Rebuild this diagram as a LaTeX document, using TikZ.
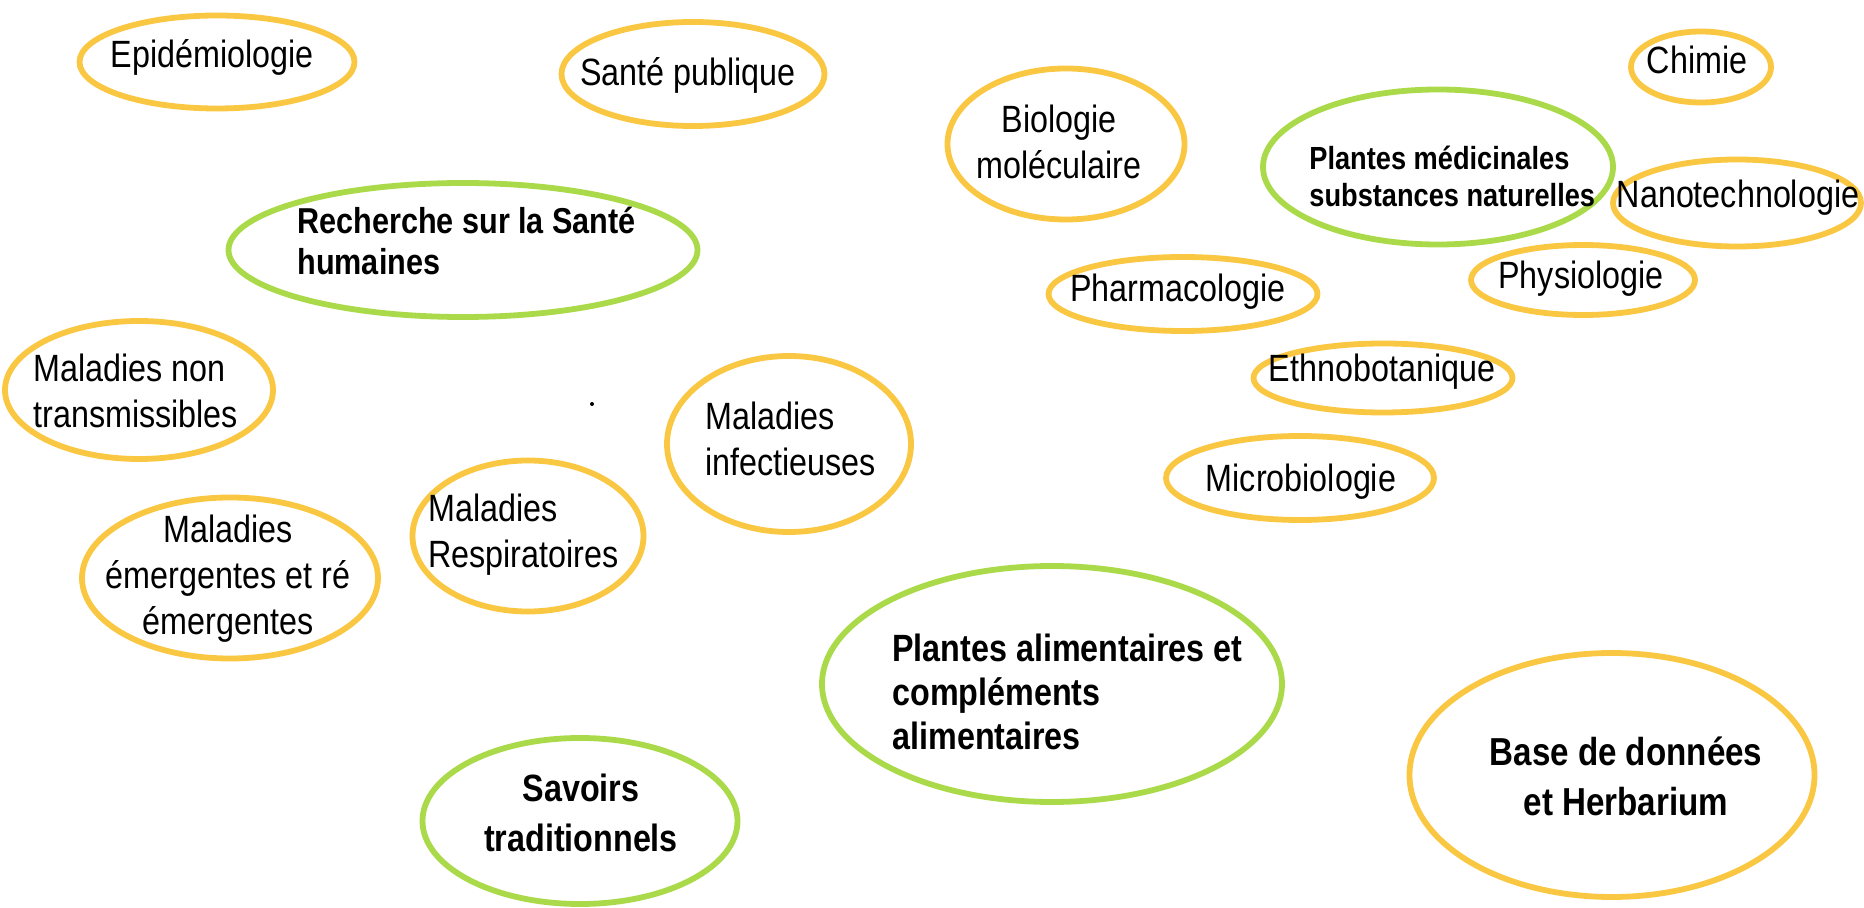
\documentclass[tikz,border=0pt]{standalone}
\usepackage{fontspec}
\setmainfont{Liberation Sans}[FakeStretch=0.85]
\usetikzlibrary{shapes.geometric}

\definecolor{gold}{RGB}{250,199,66}
\definecolor{leaf}{RGB}{170,218,74}

\newcommand{\txtreg}{\fontsize{19}{23}\selectfont}
\newcommand{\txtkey}{\fontsize{18}{20.5}\selectfont\bfseries}

\tikzset{
  ring/.style={ellipse, draw=gold, line width=2.9pt, inner sep=0pt},
  keyring/.style={ring, draw=leaf},
  lbl/.style={inner sep=0pt, font=\txtreg, align=center},
  keylbl/.style={lbl, font=\txtkey},
}

\begin{document}
\begin{tikzpicture}[x=0.5pt, y=-0.5pt]
    \useasboundingbox (0,0) rectangle (1864,908);

    % left group: health research
    \node[ring, minimum width=137.5pt, minimum height=46.5pt] (epi) at (217,62) {};
    \node[lbl] (epi-t) at (212,57) {Epidémiologie};
    \node[ring, minimum width=131.5pt, minimum height=52pt] (sante) at (693,74) {};
    \node[lbl] (sante-t) at (688,75) {Santé publique};
    \node[keyring, minimum width=234.5pt, minimum height=67pt] (rech) at (463,250) {};
    \node[keylbl, anchor=west, align=left] (rech-t) at (297,241) {Recherche sur la Santé\\humaines};
    \node[ring, minimum width=134pt, minimum height=69pt] (nontrans) at (139,390) {};
    \node[lbl, anchor=west, align=left] (nontrans-t) at (33,391) {Maladies non\\transmissibles};
    \node[ring, minimum width=122pt, minimum height=88pt] (infect) at (789,444) {};
    \node[lbl, anchor=west, align=left] (infect-t) at (705,439) {Maladies\\infectieuses};
    \node[ring, minimum width=148pt, minimum height=80.5pt] (emerg) at (230,578) {};
    \node[lbl] (emerg-t) at (228,579) {Maladies\\émergentes et ré\\émergentes};
    \node[ring, minimum width=115.5pt, minimum height=75.5pt] (respi) at (528,536) {};
    \node[lbl, anchor=west, align=left] (respi-t) at (428,535) {Maladies\\Respiratoires};
    \fill (592,404) circle (1pt);

    % bottom
    \node[keyring, minimum width=157.5pt, minimum height=83pt] (savoirs) at (580,821) {};
    \node[keylbl, font=\fontsize{19}{25}\selectfont\bfseries] (savoirs-t) at (581,813) {Savoirs\\traditionnels};
    \node[keyring, minimum width=230pt, minimum height=118pt] (alim) at (1052,684) {};
    \node[keylbl, anchor=west, align=left, font=\fontsize{19}{22}\selectfont\bfseries] (alim-t) at (892,692) {Plantes alimentaires et\\compléments\\alimentaires};
    \node[ring, minimum width=202.5pt, minimum height=122pt] (base) at (1612,775) {};
    \node[keylbl, font=\fontsize{19.5}{25}\selectfont\bfseries] (base-t) at (1626,776) {Base de données\\et Herbarium};

    % right group: medicinal plants
    \node[ring, minimum width=118.5pt, minimum height=75.5pt] (bio) at (1066,144) {};
    \node[lbl] (bio-t) at (1059,142) {Biologie\\moléculaire};
    \node[keyring, minimum width=175pt, minimum height=77.5pt] (medic) at (1438,167) {};
    \node[keylbl, anchor=west, align=left, font=\fontsize{16}{18.5}\selectfont\bfseries] (medic-t) at (1309,176) {Plantes médicinales\\substances naturelles};
    \node[ring, minimum width=70pt, minimum height=35.5pt] (chimie) at (1701,67) {};
    \node[lbl] (chimie-t) at (1697,60) {Chimie};
    \node[ring, minimum width=124pt, minimum height=43.5pt] (nano) at (1737,203) {};
    \node[lbl] (nano-t) at (1738,198) {Nanotechnologie};
    \node[ring, minimum width=112pt, minimum height=35pt] (physio) at (1583,280) {};
    \node[lbl] (physio-t) at (1581,279) {Physiologie};
    \node[ring, minimum width=134.5pt, minimum height=37pt] (pharma) at (1183,294) {};
    \node[lbl] (pharma-t) at (1178,292) {Pharmacologie};
    \node[ring, minimum width=129.5pt, minimum height=34.5pt] (ethno) at (1383,378) {};
    \node[lbl] (ethno-t) at (1382,372) {Ethnobotanique};
    \node[ring, minimum width=134pt, minimum height=42pt] (micro) at (1300,478) {};
    \node[lbl] (micro-t) at (1301,482) {Microbiologie};
\end{tikzpicture}
\end{document}
